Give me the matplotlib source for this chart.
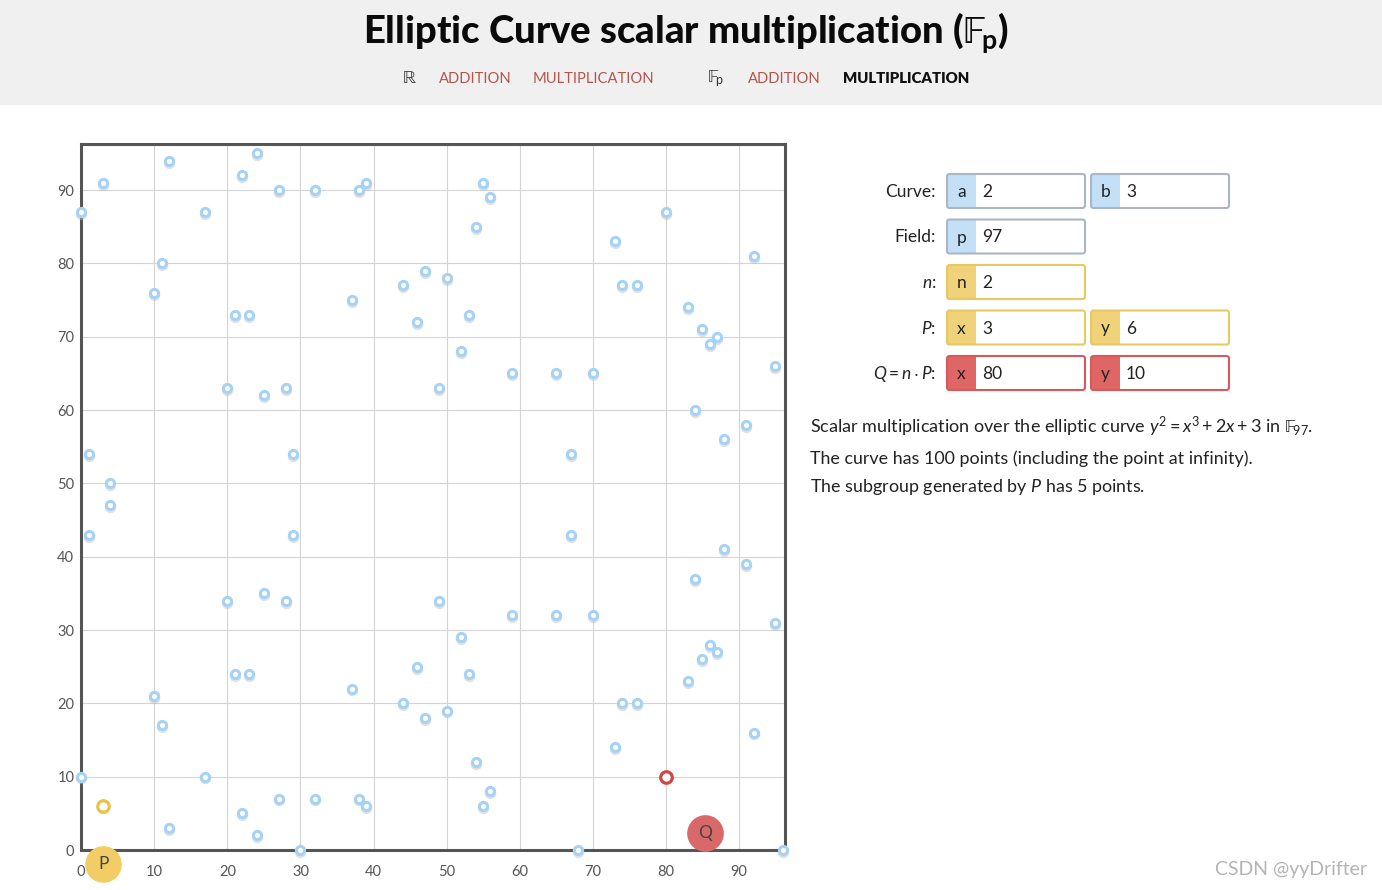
import matplotlib
matplotlib.use('Agg')
import matplotlib.pyplot as plt
from matplotlib.patches import Rectangle, FancyBboxPatch
from matplotlib.transforms import offset_copy

plt.rcParams['font.family'] = ['Lato', 'DejaVu Sans']
plt.rcParams['mathtext.fontset'] = 'custom'
plt.rcParams['mathtext.rm'] = 'Lato'
plt.rcParams['mathtext.it'] = 'Lato:italic'
plt.rcParams['mathtext.bf'] = 'Lato:bold'
plt.rcParams['mathtext.fallback'] = 'stix'

# ---------------- data ----------------
pair_x = [0, 1, 3, 4, 10, 11, 12, 17, 20, 21, 22, 23, 24, 25, 27, 28, 29, 32,
          37, 38, 39, 44, 46, 47, 49, 50, 52, 53, 54, 55, 56, 59, 65, 67, 70,
          73, 74, 76, 80, 83, 84, 85, 86, 87, 88, 91, 92, 95]
pair_y_hi = [87, 54, 91, 50, 76, 80, 94, 87, 63, 73, 92, 73, 95, 62, 90, 63, 54, 90,
             75, 90, 91, 77, 72, 79, 63, 78, 68, 73, 85, 91, 89, 65, 65, 54, 65,
             83, 77, 77, 87, 74, 60, 71, 69, 70, 56, 58, 81, 66]
pair_y_lo = [10, 43, 6, 47, 21, 17, 3, 10, 34, 24, 5, 24, 2, 35, 7, 34, 43, 7,
             22, 7, 6, 20, 25, 18, 34, 19, 29, 24, 12, 6, 8, 32, 32, 43, 32,
             14, 20, 20, 10, 23, 37, 26, 28, 27, 41, 39, 16, 31]
zero_x = [30, 68, 96]
zero_y = [0, 0, 0]

P = (3, 6)
Q = (80, 10)
xticks = [0, 10, 20, 30, 40, 50, 60, 70, 80, 90]
yticks = [0, 10, 20, 30, 40, 50, 60, 70, 80, 90]

W, H = 1382, 890
fig = plt.figure(figsize=(W / 100, H / 100), dpi=100)

# ---------------- background overlay in pixel coordinates ----------------
bg = fig.add_axes([0, 0, 1, 1], zorder=-1)
bg.set_xlim(0, W)
bg.set_ylim(H, 0)
bg.axis('off')
bg.add_patch(Rectangle((0, 0), W, 105, color='#f0f0f0', lw=0))

bg.text(686, 43, r'Elliptic Curve scalar multiplication ($\mathrm{\mathbb{F}}_\mathbf{p}$)',
        ha='center', va='baseline', fontsize=27.5, weight='black', color='#0a0a0a')

link = '#b5544c'
nav_base = 82.7
bg.text(409, nav_base, r'$\mathrm{\mathbb{R}}$', ha='center', va='baseline', fontsize=13, color='#333333')
bg.text(439, nav_base, 'ADDITION', ha='left', va='baseline', fontsize=10.6, color=link)
bg.text(533, nav_base, 'MULTIPLICATION', ha='left', va='baseline', fontsize=10.6, color=link)
bg.text(707, nav_base, r'$\mathrm{\mathbb{F}}_\mathrm{p}$', ha='left', va='baseline', fontsize=13, color='#333333')
bg.text(748, nav_base, 'ADDITION', ha='left', va='baseline', fontsize=10.6, color=link)
bg.text(843, nav_base, 'MULTIPLICATION', ha='left', va='baseline', fontsize=10.8, color='#111111', weight='heavy')

# ---------------- input boxes ----------------
BLUE = ('#c3e0f7', '#a9b6c3')
YEL = ('#f0d27a', '#e8c860')
RED = ('#e06666', '#d65a5c')


def box(x0, yc, prefix, value, style):
    fill, border = style
    w, h = 138, 34
    bg.add_patch(Rectangle((x0, yc - h / 2), 29, h, color=fill, lw=0))
    bg.add_patch(FancyBboxPatch((x0, yc - h / 2), w, h,
                                boxstyle='round,pad=0,rounding_size=2.5',
                                fc='none', ec=border, lw=1.5))
    bg.text(x0 + 14.5, yc + 1, prefix, ha='center', va='center', fontsize=12.5, color='#222222')
    bg.text(x0 + 35, yc + 1, value, ha='left', va='center', fontsize=12.5, color='#222222')


rows = [191, 236.5, 282, 327.5, 373]
labels = ['Curve:', 'Field:', r'$n$:', r'$P$:', r'$Q = n \cdot P$:']
for yc, lab in zip(rows, labels):
    bg.text(936, yc + 1, lab, ha='right', va='center', fontsize=12.5, color='#222222')

box(947, rows[0], 'a', '2', BLUE)
box(1091, rows[0], 'b', '3', BLUE)
box(947, rows[1], 'p', '97', BLUE)
box(947, rows[2], 'n', '2', YEL)
box(947, rows[3], 'x', str(P[0]), YEL)
box(1091, rows[3], 'y', str(P[1]), YEL)
box(947, rows[4], 'x', str(Q[0]), RED)
box(1091, rows[4], 'y', str(Q[1]), RED)

desc_fs = 12.9
bg.text(810, 427, r'Scalar multiplication over the elliptic curve $y^2 = x^3 + 2x + 3$ in $\mathrm{\mathbb{F}}_{97}$.',
        ha='left', va='center', fontsize=13.0, color='#222222')
bg.text(810, 459, 'The curve has 100 points (including the point at infinity).',
        ha='left', va='center', fontsize=desc_fs, color='#222222')
bg.text(810, 487, r'The subgroup generated by $P$ has 5 points.',
        ha='left', va='center', fontsize=desc_fs, color='#222222')

bg.text(1367, 869, 'CSDN @yyDrifter', ha='right', va='center', fontsize=14, color='#b4b4b4')

# ---------------- main plot ----------------
ax = fig.add_axes([81.2 / W, 40 / H, 703.8 / W, 705.7 / H])
ax.set_xlim(0, 96.3)
ax.set_ylim(0, 96.25)
for s in ax.spines.values():
    s.set_color('#555555')
    s.set_linewidth(2.2)
ax.set_xticks(xticks)
ax.set_yticks(yticks)
ax.tick_params(length=0, labelsize=10.5, labelcolor='#555555')
ax.tick_params(axis='x', pad=11)
ax.tick_params(axis='y', pad=5)
ax.grid(True, color='#d4d4d4', lw=0.8)
ax.set_axisbelow(True)

xs = pair_x + pair_x + zero_x
ys = pair_y_hi + pair_y_lo + zero_y
shadow = offset_copy(ax.transData, fig=fig, x=0, y=-1.8, units='dots')
ax.plot(xs, ys, 'o', ms=6.2, mfc='none', mec='#bdbdbd', mew=2.0, alpha=0.45,
        clip_on=False, zorder=3, linestyle='none', transform=shadow)
ax.plot(xs, ys, 'o', ms=5.9, mfc='white', mec='#a6d2f5', mew=2.2,
        clip_on=False, zorder=4, linestyle='none')

ax.plot([P[0]], [P[1]], 'o', ms=8.3, mfc='white', mec='#eec145', mew=2.3,
        clip_on=False, zorder=5)
ax.plot([Q[0]], [Q[1]], 'o', ms=8.3, mfc='white', mec='#d04545', mew=2.3,
        clip_on=False, zorder=5)

# point labels
plx, ply = P[0], -1.9
qlx, qly = Q[0] + 5.4, 2.3
ax.plot([plx], [ply], 'o', ms=26.4, color='#f2cd66', mew=0, clip_on=False, zorder=6)
ax.text(plx, ply, 'P', ha='center', va='center', fontsize=12.5, color='#444444', zorder=7, clip_on=False)
ax.plot([qlx], [qly], 'o', ms=26.4, color='#d96868', mew=0, clip_on=False, zorder=6)
ax.text(qlx, qly, 'Q', ha='center', va='center', fontsize=12.5, color='#444444', zorder=7, clip_on=False)

fig.savefig('out.png', dpi=100)
